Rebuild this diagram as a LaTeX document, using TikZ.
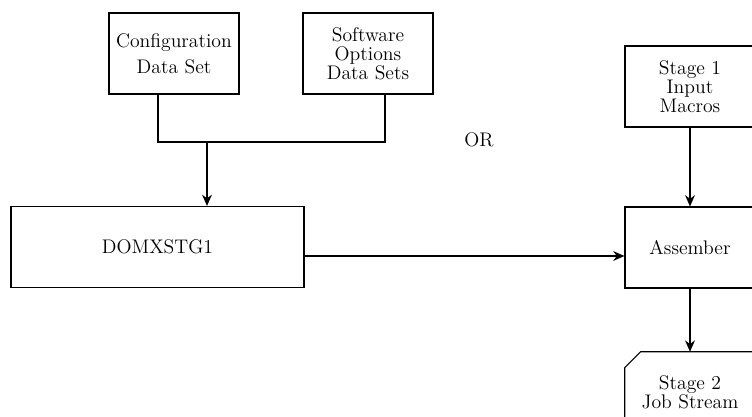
\documentclass[tikz,border=0pt]{standalone}
\usetikzlibrary{arrows.meta, positioning, calc}

\begin{document}
\begin{tikzpicture}[
  x=0.025cm, y=-0.025cm,
  block/.style={draw, line width=0.8pt, minimum width=3.25cm,
                minimum height=2.025cm, align=center,
                font=\fontsize{14pt}{13.5pt}\selectfont},
  wideblock/.style={block, minimum width=7.325cm},
  cardtext/.style={minimum width=3.25cm, minimum height=2.025cm,
                   align=center, font=\fontsize{14pt}{13.5pt}\selectfont},
  arr/.style={-{Stealth[length=8pt, width=7pt]}, line width=0.8pt},
  wire/.style={line width=0.8pt},
]
\useasboundingbox (0,0) rectangle (752,416);
\clip (0,0) rectangle (752,416);

\node[block]     (config)   at (174,53.5)  {Configuration\\[5pt]Data Set};
\node[block]     (softopt)  at (368,53.5)  {Software\\Options\\Data Sets};
\node[wideblock] (domxstg)  at (157.5,247) {DOMXSTG1};
\node            (orword)   at (479,140)   {\fontsize{14pt}{14pt}\selectfont OR};
\node[block]     (stageone) at (690,86.5)  {Stage 1\\Input\\Macros};
\node[block]     (assem)    at (690,247.5) {Assember};
\node[cardtext]  (stagetwo) at (690,392.5) {Stage 2\\Job Stream};

\draw[wire] (stagetwo.south west) ++(0,20) -- ($(stagetwo.north west)+(0,16)$)
  -- ($(stagetwo.north west)+(16,0)$) -- ($(stagetwo.north east)+(10,0)$);

\coordinate (join) at (207,142);
\draw[wire] ($(config.south)+(-16,0)$) |- (join) -| ($(softopt.south)+(17,0)$);
\draw[arr] (join) -- (join |- domxstg.north);
\coordinate (feed) at ($(domxstg.east)+(0,9)$);
\draw[arr] (feed) -- (feed -| assem.west);
\draw[arr] (stageone) -- (assem);
\draw[arr] (assem) -- (stagetwo);
\end{tikzpicture}
\end{document}
